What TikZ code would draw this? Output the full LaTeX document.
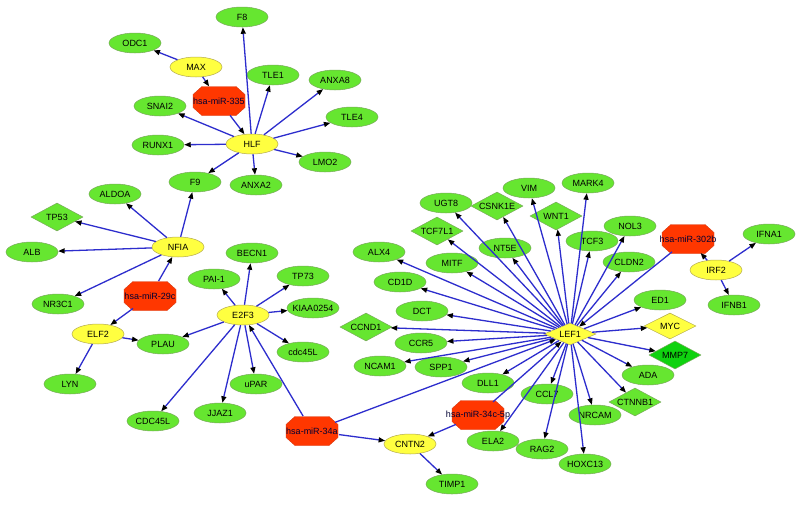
\documentclass[tikz,border=0pt]{standalone}
\usepackage{fontspec}
\setmainfont{Liberation Sans}
\usetikzlibrary{shapes.geometric,arrows.meta}
\definecolor{gfill}{RGB}{102,230,48}
\definecolor{gdraw}{RGB}{120,170,90}
\definecolor{yfill}{RGB}{255,255,64}
\definecolor{ydraw}{RGB}{180,170,80}
\definecolor{rfill}{RGB}{255,55,0}
\definecolor{rdraw}{RGB}{215,60,20}
\definecolor{dgfill}{RGB}{15,210,15}
\definecolor{eblue}{RGB}{45,45,205}
\newcommand\nl[1]{\makebox[0pt]{#1}}
\newcommand\octa[2]{\begin{scope}[shift={(#1,#2)}]
  \fill[fill=rfill,draw=rdraw,line width=0.4pt] (-17,-14.5) -- (17,-14.5) -- (26,-6.5) -- (26,6.5) -- (17,14.5) -- (-17,14.5) -- (-26,6.5) -- (-26,-6.5) -- cycle;
  \end{scope}}
\tikzset{
  every node/.style={font=\fontsize{9}{10}\selectfont, text=black, inner sep=0pt},
  gene/.style={ellipse, fill=gfill, draw=gdraw, line width=0.5pt, minimum width=52pt, minimum height=20pt},
  tf/.style={ellipse, fill=yfill, draw=ydraw, line width=0.5pt, minimum width=52pt, minimum height=20pt},
  gdia/.style={diamond, aspect=2, fill=gfill, draw=gdraw, line width=0.5pt, minimum width=52pt, minimum height=28pt},
  ydia/.style={diamond, aspect=2, fill=yfill, draw=ydraw, line width=0.5pt, minimum width=52pt, minimum height=26pt},
  ddia/.style={diamond, aspect=2, fill=dgfill, draw=gdraw, line width=0.5pt, minimum width=52pt, minimum height=28pt},
  mir/.style={ellipse, minimum width=55pt, minimum height=31pt, text=black!80!blue},
  edge/.style={draw=eblue, line width=1.3pt, -{Triangle[length=6.5pt,width=5pt,color=black]}}
}
\begin{document}
\begin{tikzpicture}[x=1pt,y=-1pt]
\fill[white] (0,0) rectangle (800,504);
\useasboundingbox (0,0) rectangle (800,504);
% green genes
\node[gene] (F8) at (242,17) {\nl{F8}};
\node[gene] (ODC1) at (135,43) {\nl{ODC1}};
\node[gene] (TLE1) at (273,75) {\nl{TLE1}};
\node[gene] (ANXA8) at (335,80) {\nl{ANXA8}};
\node[gene] (SNAI2) at (160,106) {\nl{SNAI2}};
\node[gene] (TLE4) at (352,117) {\nl{TLE4}};
\node[gene] (RUNX1) at (158,145) {\nl{RUNX1}};
\node[gene] (LMO2) at (325,162) {\nl{LMO2}};
\node[gene] (F9) at (195,182) {\nl{F9}};
\node[gene] (ANXA2) at (256,185) {\nl{ANXA2}};
\node[gene] (ALDOA) at (115,194) {\nl{ALDOA}};
\node[gene] (ALB) at (32,252) {\nl{ALB}};
\node[gene] (NR3C1) at (58,304) {\nl{NR3C1}};
\node[gene] (PAI1) at (214,279) {\nl{PAI-1}};
\node[gene] (BECN1) at (252,253) {\nl{BECN1}};
\node[gene] (TP73) at (303,276) {\nl{TP73}};
\node[gene] (KIAA) at (313,308) {\nl{KIAA0254}};
\node[gene] (cdc) at (303,352) {\nl{cdc45L}};
\node[gene] (PLAU) at (163,344) {\nl{PLAU}};
\node[gene] (LYN) at (70,384) {\nl{LYN}};
\node[gene] (uPAR) at (256,384) {\nl{uPAR}};
\node[gene] (JJAZ1) at (220,413) {\nl{JJAZ1}};
\node[gene] (CDC) at (153,421) {\nl{CDC45L}};
\node[gene] (TIMP1) at (452,484) {\nl{TIMP1}};
\node[gene] (ALX4) at (379,252) {\nl{ALX4}};
\node[gene] (CD1D) at (400,282) {\nl{CD1D}};
\node[gene] (DCT) at (422,311) {\nl{DCT}};
\node[gene] (CCR5) at (421,343) {\nl{CCR5}};
\node[gene] (NCAM1) at (380,366) {\nl{NCAM1}};
\node[gene] (SPP1) at (441,367) {\nl{SPP1}};
\node[gene] (DLL1) at (488,383) {\nl{DLL1}};
\node[gene] (CCL7) at (547,394) {\nl{CCL7}};
\node[gene] (NRCAM) at (595,415) {\nl{NRCAM}};
\node[gene] (ELA2) at (493,441) {\nl{ELA2}};
\node[gene] (RAG2) at (542,449) {\nl{RAG2}};
\node[gene] (HOXC13) at (585,464) {\nl{HOXC13}};
\node[gene] (ADA) at (648,375) {\nl{ADA}};
\node[gene] (ED1) at (660,300) {\nl{ED1}};
\node[gene] (UGT8) at (446,203) {\nl{UGT8}};
\node[gene] (VIM) at (529,188) {\nl{VIM}};
\node[gene] (MARK4) at (588,183) {\nl{MARK4}};
\node[gene] (NT5E) at (505,248) {\nl{NT5E}};
\node[gene] (TCF3) at (592,241) {\nl{TCF3}};
\node[gene] (NOL3) at (630,226) {\nl{NOL3}};
\node[gene] (CLDN2) at (629,262) {\nl{CLDN2}};
\node[gene] (MITF) at (452,263) {\nl{MITF}};
\node[gene] (IFNA1) at (769,234) {\nl{IFNA1}};
\node[gene] (IFNB1) at (734,305) {\nl{IFNB1}};
% green diamonds
\node[gdia] (TP53) at (57,217) {\nl{TP53}};
\node[gdia] (CCND1) at (366,327) {\nl{CCND1}};
\node[gdia] (TCF7L1) at (437,231) {\nl{TCF7L1}};
\node[gdia] (CSNK1E) at (497,206) {\nl{CSNK1E}};
\node[gdia] (WNT1) at (556,216) {\nl{WNT1}};
\node[gdia] (CTNNB1) at (635,402) {\nl{CTNNB1}};
\node[ddia] (MMP7) at (675,355) {\nl{MMP7}};
% yellow
\node[tf] (MAX) at (196,67) {\nl{MAX}};
\node[tf] (HLF) at (252,144) {\nl{HLF}};
\node[tf] (NFIA) at (178,247) {\nl{NFIA}};
\node[tf] (ELF2) at (98,334) {\nl{ELF2}};
\node[tf] (E2F3) at (243,315) {\nl{E2F3}};
\node[tf] (CNTN2) at (410,444) {\nl{CNTN2}};
\node[tf] (IRF2) at (716,270) {\nl{IRF2}};
\node[ydia, minimum height=22pt] (LEF1) at (570,334) {\nl{LEF1}};
\node[ydia] (MYC) at (670,326) {\nl{MYC}};
% miRNAs
\octa{219}{101}
\node[mir] (m335) at (219,101) {\nl{hsa-miR-335}};
\octa{150}{296}
\node[mir] (m29c) at (150,296) {\nl{hsa-miR-29c}};
\octa{312}{431}
\node[mir] (m34a) at (312,431) {\nl{hsa-miR-34a}};
\octa{478}{415}
\node[mir] (m34c) at (478,415) {\nl{hsa-miR-34c-5p}};
\octa{688}{239}
\node[mir] (m302b) at (688,239) {\nl{hsa-miR-302b}};
% edges
\foreach \t in {F8,TLE1,ANXA8,TLE4,LMO2,ANXA2,F9,RUNX1,SNAI2}
  \draw[edge] (HLF) -- (\t);
\draw[edge] (m335) -- (HLF);
\draw[edge] (MAX) -- (m335);
\draw[edge] (MAX) -- (ODC1);
\foreach \t in {F9,ALDOA,TP53,ALB,NR3C1}
  \draw[edge] (NFIA) -- (\t);
\draw[edge] (m29c) -- (NFIA);
\draw[edge] (m29c) -- (ELF2);
\draw[edge] (ELF2) -- (PLAU);
\draw[edge] (ELF2) -- (LYN);
\foreach \t in {PAI1,BECN1,TP73,KIAA,cdc,uPAR,JJAZ1,CDC,PLAU}
  \draw[edge] (E2F3) -- (\t);
\draw[edge] (m34a) -- (E2F3);
\draw[edge] (m34a) -- (CNTN2);
\draw[edge] (m34a) -- (LEF1);
\draw[edge] (m34c) -- (CNTN2);
\draw[edge] (m34c) -- (LEF1);
\draw[edge] (CNTN2) -- (TIMP1);
\foreach \t in {UGT8,CSNK1E,VIM,MARK4,WNT1,TCF7L1,NT5E,TCF3,NOL3,CLDN2,MITF,ALX4,CD1D,DCT,CCND1,CCR5,NCAM1,SPP1,DLL1,CCL7,ELA2,RAG2,HOXC13,NRCAM,CTNNB1,ADA,MMP7,MYC,ED1}
  \draw[edge] (LEF1) -- (\t);
\draw[edge] (m302b) -- (LEF1);
\draw[edge] (IRF2) -- (m302b);
\draw[edge] (IRF2) -- (IFNA1);
\draw[edge] (IRF2) -- (IFNB1);
\end{tikzpicture}
\end{document}
